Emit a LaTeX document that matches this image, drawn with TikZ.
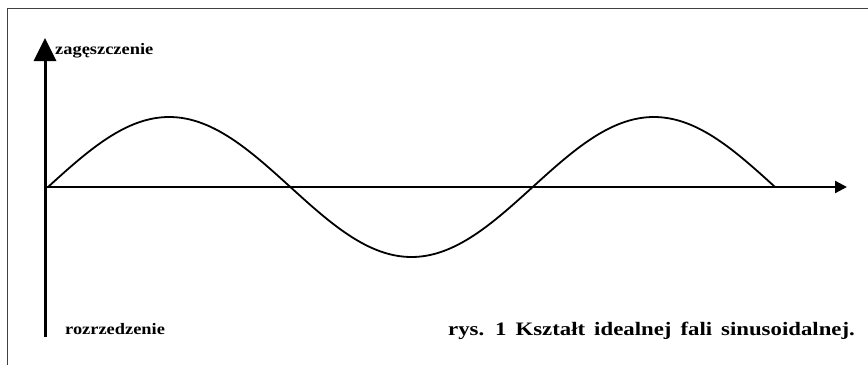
\documentclass[tikz,border=0pt]{standalone}
\usepackage{fontspec}
\setmainfont{Liberation Serif}
\usetikzlibrary{arrows.meta}

\begin{document}
\begin{tikzpicture}[
  x=1pt, y=-1pt,
  frame/.style={draw=black!75, line width=0.8pt},
  axis/.style={draw=black, line width=3pt},
  wave/.style={draw=black, line width=1.8pt},
  lbl/.style={font=\fontsize{16}{16}\selectfont\bfseries\addfontfeatures{FakeStretch=1.15}, anchor=base west, inner sep=0pt},
  caption/.style={font=\fontsize{19}{19}\selectfont\bfseries\addfontfeatures{FakeStretch=1.2}, anchor=base west, inner sep=0pt}
]
\useasboundingbox (0,0) rectangle (868,365);

% frame
\draw[frame] (7,365) -- (7,8) -- (868,8);

% axes
\coordinate (ybot) at (45,337);
\coordinate (ytop) at (45,38);
\coordinate (O) at (45,187);
\coordinate (xend) at (847,187);
\draw[axis, -{Triangle[length=23pt,width=22pt]}] (ybot) -- (ytop);
\draw[line width=2.2pt, -{Triangle[length=12pt,width=12pt]}] (O) -- (xend);

% sine wave
\draw[wave, shift={(48,187)}] plot[domain=0:727, samples=160, smooth] (\x, {-70*sin(\x/484.7*360)});

% labels
\node[lbl] (zag) at (55,54) {zagęszczenie};
\node[lbl] (roz) at (65,334) {rozrzedzenie};
\node[caption] (cap) at (448,335) {\spaceskip=9pt rys. 1 Kształt idealnej fali sinusoidalnej.};

\end{tikzpicture}
\end{document}
